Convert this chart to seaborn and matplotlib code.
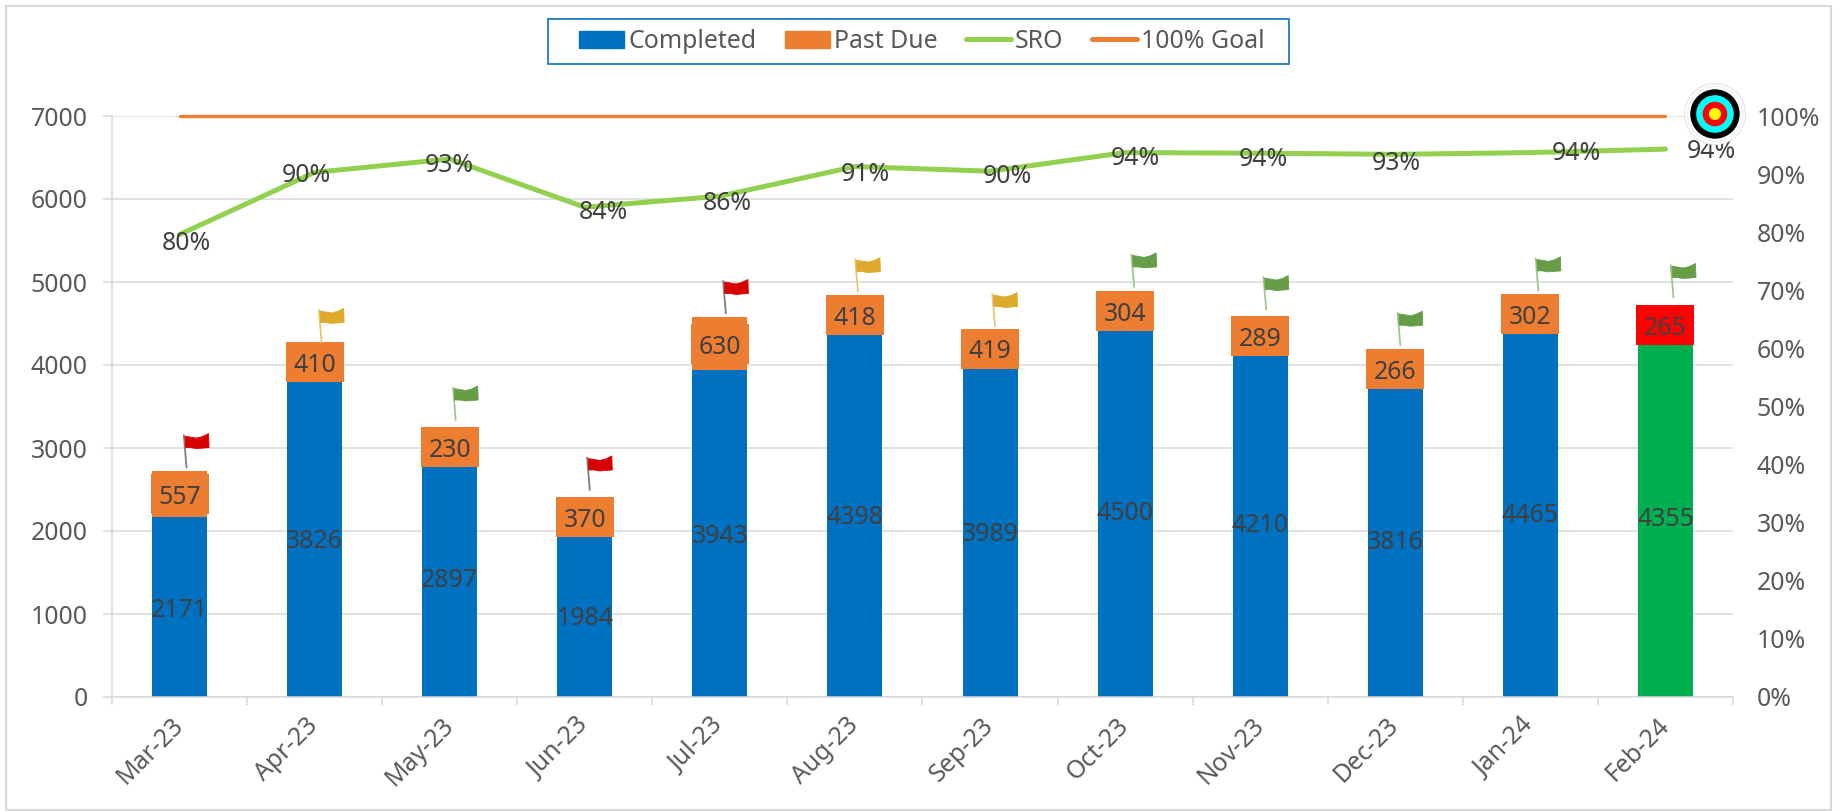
import numpy as np
import pandas as pd
import seaborn as sns
import matplotlib
matplotlib.use("Agg")
import matplotlib.pyplot as plt
from matplotlib.patches import Patch, Polygon, Circle, Rectangle
from matplotlib.lines import Line2D
from matplotlib.transforms import ScaledTranslation

months = ["Mar-23","Apr-23","May-23","Jun-23","Jul-23","Aug-23","Sep-23","Oct-23","Nov-23","Dec-23","Jan-24","Feb-24"]
completed = [2171,3826,2897,1984,3943,4398,3989,4500,4210,3816,4465,4355]
past_due = [557,410,230,370,630,418,419,304,289,266,302,265]
sro = [0.796,0.903,0.926,0.843,0.862,0.913,0.905,0.937,0.936,0.934,0.937,0.943]
goal = [1.0]*12
flag_status = ["red","amber","green","red","red","amber","amber","green","green","green","green","green"]

# label and flag nudges in pixels (style, not data)
lab_dx = [7,-8,0,19,7,10,17,10,3,1,46,46]
lab_dy = [-9,-3,-7,-5,-7,-8,-5,-6,-6,-9,-1,-2]
flag_dx = [7,7,6,5,6,3,5,9,6,5,8,8]
flag_dy = [3,0,7,7,4,3,2,4,6,4,3,7]

BLUE="#0070C0"; ORANGE="#ED7D31"; LIME="#92D050"; GRID="#D9D9D9"
TICK="#595959"; LABEL="#404040"
FLAG={"red":"#D60000","amber":"#DDAA2C","green":"#669E48"}
POLE={"red":"#7F7F7F","amber":"#E8C66E","green":"#A3C48F"}

sns.set_theme(style="white")
plt.rcParams['font.family']=['Noto Sans','DejaVu Sans']
FS=17.9
W,H=1843,811
fig=plt.figure(figsize=(W/100,H/100),dpi=100,facecolor="white")
L,R,T,B=112,1733,116,697
ax=fig.add_axes([L/W,1-B/H,(R-L)/W,(B-T)/H])

df=pd.DataFrame({"month":months,"completed":completed,"past_due":past_due,"sro":sro,"goal":goal})
df["total"]=df.completed+df.past_due
df["middle"]=df.completed+df.past_due/2
pos=np.arange(len(months))

ax.set_axisbelow(True)
sns.barplot(data=df,x="month",y="completed",color=BLUE,width=0.407,saturation=1,ax=ax,zorder=2,linewidth=0)
sns.barplot(data=df,x="month",y="past_due",color=ORANGE,width=0.407,saturation=1,ax=ax,zorder=3,linewidth=0,
            bottom=df.completed.values)
ax.containers[0][-1].set_facecolor("#00B050")
ax.containers[1][-1].set_facecolor("#FF0000")
for c in ax.containers:
    ax.bar_label(c,label_type="center",fontsize=FS,color=LABEL,zorder=5,padding=-2.5)

ax.set_xlim(-0.5,11.5); ax.set_ylim(0,7000)
ax.set_xlabel(""); ax.set_ylabel("")
ax.set_yticks(range(0,8000,1000))
ax.yaxis.grid(True,color=GRID,lw=1.1); ax.xaxis.grid(False)
ax.tick_params(axis="y",left=True,length=6.5,width=1.1,color=GRID,labelsize=FS,labelcolor=TICK,pad=11)
ax.set_xticks(pos); ax.set_xticklabels(months)
ax.set_xticks(np.arange(-0.5,12,1),minor=True)
ax.tick_params(axis="x",which="major",bottom=False,labelsize=FS,labelcolor=TICK,pad=12)
ax.tick_params(axis="x",which="minor",bottom=True,length=6,width=1.1,color=GRID)
for t in ax.get_xticklabels():
    t.set_rotation(45); t.set_ha("right"); t.set_rotation_mode("anchor"); t.set_va("center")
for s in ["top","right"]: ax.spines[s].set_visible(False)
for s in ["left","bottom"]:
    ax.spines[s].set_color(GRID); ax.spines[s].set_linewidth(1.1)

# filled data-label boxes of fixed pixel size on each Past Due segment, then a flag above
pole_xy=np.array([(0,0),(-2.7,32.4)])
body=np.array([(-1.5,31.4),(4,30.5),(10,29.5),(16,31),(22,34),(22.5,20),(16,19.5),(10,19),(4,20),(-1,20)])
for x,mid,tot,st,fdx,fdy in zip(pos,df.middle,df.total,flag_status,flag_dx,flag_dy):
    tr=ScaledTranslation(x,mid,ax.transData)
    box_col="#FF0000" if x==pos[-1] else ORANGE
    ax.add_patch(Rectangle((-29,-20),58,40,fc=box_col,ec="none",transform=tr,zorder=4,clip_on=False))
    tr_top=ScaledTranslation(x,tot,ax.transData)
    # the flag stands on whichever is higher: the bar or the box
    lift=max(20-(tot-mid)*ax.transData.get_matrix()[1,1],0)
    base=np.array([fdx,fdy+lift])
    ax.add_line(Line2D(*zip(*(pole_xy+base)),color=POLE[st],lw=1.3,transform=tr_top,clip_on=False,zorder=6))
    ax.add_patch(Polygon(body+base,closed=True,fc=FLAG[st],ec=FLAG[st],lw=0.6,joinstyle="round",
                         transform=tr_top,clip_on=False,zorder=6))

ax2=ax.twinx()
ax2.set_position(ax.get_position())
ax2.set_zorder(ax.get_zorder()+1); ax2.patch.set_visible(False)
sns.lineplot(data=df,x=pos,y="goal",ax=ax2,color=ORANGE,lw=2.4,solid_capstyle="round",zorder=3,clip_on=False)
sns.lineplot(data=df,x=pos,y="sro",ax=ax2,color=LIME,lw=3.6,solid_capstyle="round",zorder=3)
ax2.set_ylim(0,1); ax2.set_xlim(-0.5,11.5)
ax2.set_ylabel(""); ax2.set_xlabel("")
ax2.set_yticks(np.arange(0,1.01,0.1))
ax2.set_yticklabels([f"{v}%" for v in range(0,101,10)])
ax2.tick_params(axis="y",right=False,labelsize=FS,labelcolor=TICK,pad=11)
ax2.grid(False)
for s in ax2.spines.values(): s.set_visible(False)
for x,v,dx,dy in zip(pos,sro,lab_dx,lab_dy):
    ax2.annotate(f"{round(v*100)}%",(x,v),xytext=(dx*0.72,dy*0.72),textcoords="offset points",
                 ha="center",va="center",fontsize=FS,color=LABEL,zorder=5,annotation_clip=False)

# target icon at the end of the goal line
tr=ScaledTranslation(pos[-1],goal[-1],ax2.transData)
for r,fc,ec,lw in [(30.5,"white","#E4E4E4",0.8),(27.5,"white","#EEEEEE",0.6),(24.7,"black","black",0),
                   (18.8,"#00FFFF","#00FFFF",0),(12.3,"#FF0000","#FF0000",0),(6,"#FFFF00","#FFFF00",0)]:
    ax2.add_patch(Circle((49.5,2),r,fc=fc,ec=ec,lw=lw,transform=tr,clip_on=False,zorder=8))

# outer chart frame and legend box
fig.add_artist(Rectangle((6/W,1-810/H),(1831-6)/W,(810-6)/H,transform=fig.transFigure,fill=False,ec=GRID,lw=1.5,zorder=-1))
fig.add_artist(Rectangle((548/W,1-64/H),(1289-548)/W,(64-19)/H,transform=fig.transFigure,fc="white",ec="#1F7BC0",lw=1.3,zorder=1))

handles=[Patch(fc=BLUE,ec=BLUE,label="Completed"),Patch(fc=ORANGE,ec=ORANGE,label="Past Due"),
         Line2D([],[],color=LIME,lw=3.6,solid_capstyle="round",label="SRO"),
         Line2D([],[],color=ORANGE,lw=3.6,solid_capstyle="round",label="100% Goal")]
leg=fig.legend(handles=handles,ncol=4,loc="center",bbox_to_anchor=(922/W,1-41.5/H),fontsize=FS,
               frameon=False,handlelength=1.8,handleheight=0.7,handletextpad=0.16,columnspacing=1.16,
               borderpad=0,borderaxespad=0,labelcolor=TICK)
leg.set_zorder(2)
fig.savefig("out.png",dpi=100)
